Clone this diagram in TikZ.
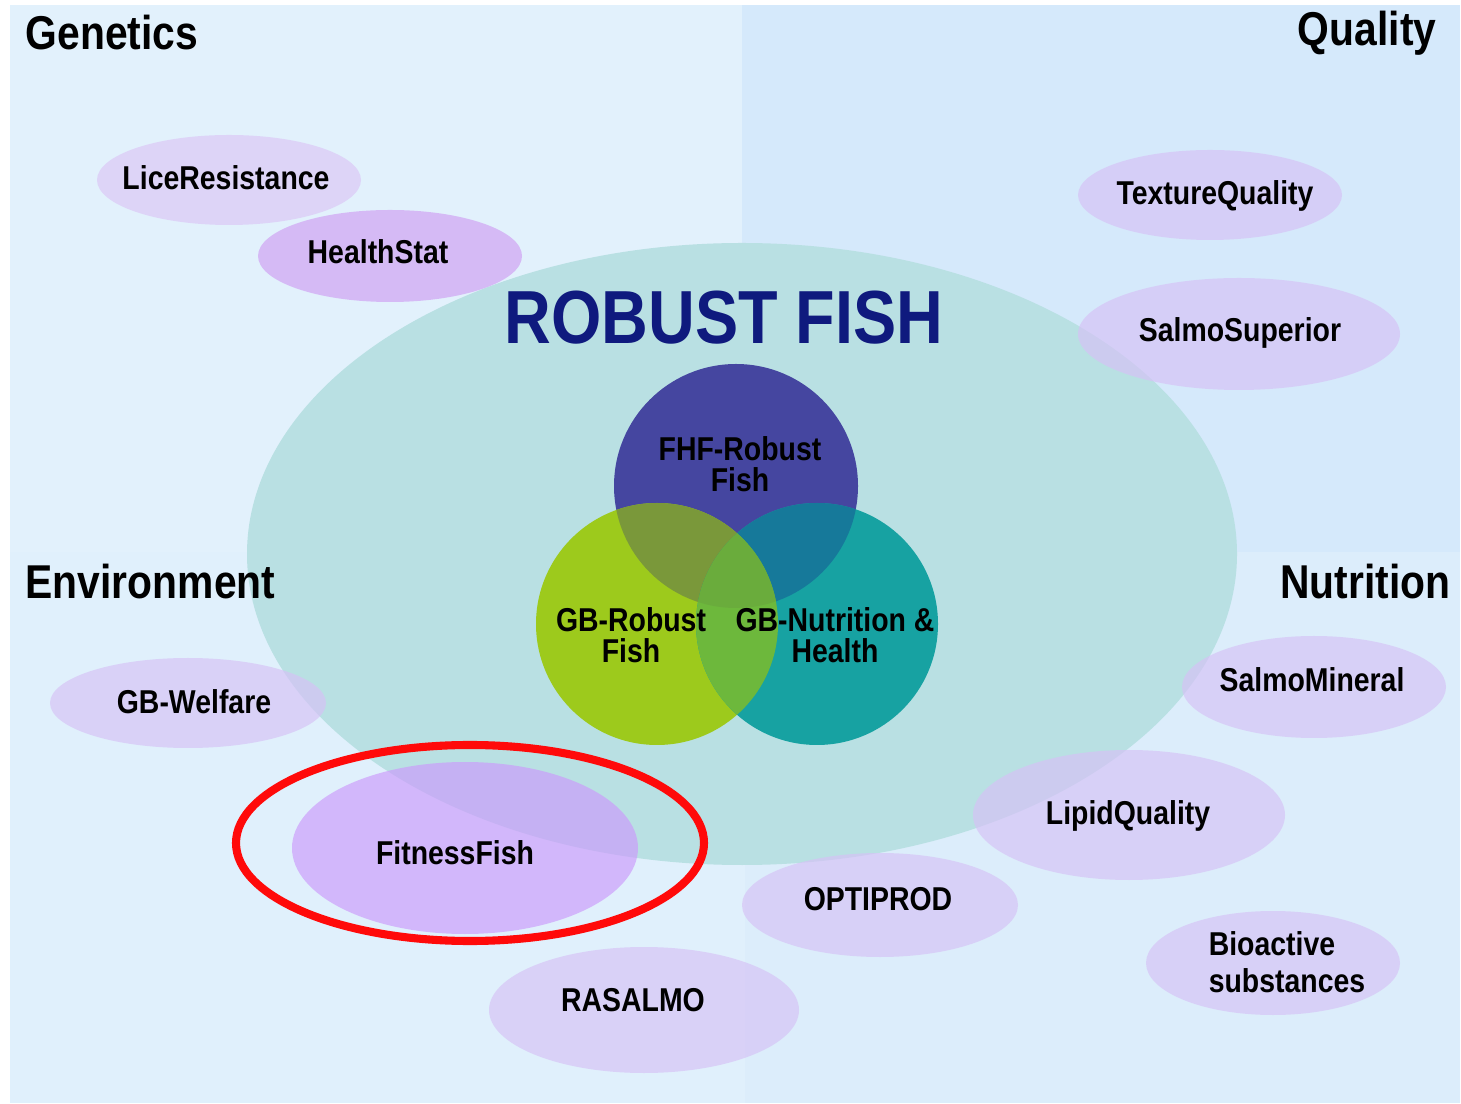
\documentclass[tikz,border=0pt]{standalone}
\usepackage{fontspec}
\usepackage{xcolor}
\usepackage{tikz}
\newfontfamily\labfont[FakeStretch=0.86]{Liberation Sans}
\definecolor{bgTL}{HTML}{E2F1FC}
\definecolor{bgTR}{HTML}{D5E9FB}
\definecolor{bgBL}{HTML}{E0F0FC}
\definecolor{bgBR}{HTML}{DCEDFB}
\definecolor{robust}{HTML}{B9E0E3}
\definecolor{lilac}{HTML}{D6C2F6}
\definecolor{lilacpale}{HTML}{DBC6F6}
\definecolor{lilacdeep}{HTML}{CFA0F3}
\definecolor{lilacfit}{HTML}{CC9BFB}
\definecolor{navy}{HTML}{0F1A7E}
\definecolor{fhfblue}{HTML}{4546A0}
\definecolor{limegreen}{HTML}{9DCA1C}
\definecolor{tealgreen}{HTML}{17A2A2}
\definecolor{olivemix}{HTML}{7A983A}
\definecolor{bluetealmix}{HTML}{16799A}
\definecolor{greenmix}{HTML}{6DB83C}
\definecolor{centremix}{HTML}{6AAC3C}
\definecolor{ringred}{HTML}{FF0A0A}
\tikzset{
  blob/.style={fill=lilac, fill opacity=0.67},
  head/.style={text=black, font=\labfont\bfseries\fontsize{13.5}{15}\selectfont, inner sep=0pt},
  lab/.style={text=black, font=\labfont\bfseries\fontsize{9.4}{8.8}\selectfont, align=center, inner sep=0pt},
  title/.style={text=navy, font=\labfont\bfseries\fontsize{21.4}{24}\selectfont, inner sep=0pt},
  ring/.style={draw=ringred, line width=2.3pt},
}

\begin{document}
\begin{tikzpicture}[x=0.01cm, y=-0.01cm]
  \useasboundingbox (0,0) rectangle (1461,1104);
  \fill[white] (0,0) rectangle (1461,1104);

  % four theme fields
  \fill[bgTL] (10,5) rectangle (742,552);
  \fill[bgTR] (742,5) rectangle (1460,552);
  \fill[bgBL] (10,552) rectangle (745,1103);
  \fill[bgBR] (745,552) rectangle (1460,1103);

  % big programme ellipse
  \fill[robust] (742,554) ellipse [x radius=495, y radius=311];

  % projects
  \fill[blob, fill=lilacpale] (229,180) ellipse [x radius=132, y radius=45];
  \fill[blob, fill=lilacdeep] (390,256) ellipse [x radius=132, y radius=46];
  \fill[blob] (1210,195) ellipse [x radius=132, y radius=45];
  \fill[blob] (1239,334) ellipse [x radius=161, y radius=56];
  \fill[blob] (188,703) ellipse [x radius=138, y radius=45];
  \fill[blob, fill=lilacfit] (465,848) ellipse [x radius=173, y radius=86];
  \fill[blob] (644,1010) ellipse [x radius=155, y radius=63];
  \fill[blob] (880,905) ellipse [x radius=138, y radius=52];
  \fill[blob] (1129,815) ellipse [x radius=156, y radius=65];
  \fill[blob] (1314,687) ellipse [x radius=132, y radius=51];
  \fill[blob] (1273,963) ellipse [x radius=127, y radius=52];

  \node[head, anchor=west] (genetics) at (25,33) {Genetics};
  \node[head, anchor=east] (quality) at (1437,33) {Quality};
  \node[head, anchor=west] (environment) at (25,582) {Environment};
  \node[head, anchor=east] (nutrition) at (1451,582) {Nutrition};

  \node[lab] (lice) at (226,178) {LiceResistance};
  \node[lab] (healthstat) at (378,252) {HealthStat};
  \node[lab] (texture) at (1215,196) {TextureQuality};
  \node[lab] (superior) at (1240,333) {SalmoSuperior};
  \node[lab] (welfare) at (194,702) {GB-Welfare};
  \node[lab] (fitness) at (455,853) {FitnessFish};
  \node[lab] (rasalmo) at (633,1000) {RASALMO};
  \node[lab] (optiprod) at (878,899) {OPTIPROD};
  \node[lab] (lipid) at (1128,816) {LipidQuality};
  \node[lab] (mineral) at (1312,680) {SalmoMineral};
  \node[lab, align=left, font=\labfont\bfseries\fontsize{9.4}{10.5}\selectfont] (bioactive) at (1287,962) {Bioactive\\substances};

  \node[title] (robustfish) at (724,318) {ROBUST FISH};

  % venn of the three core projects
  \coordinate (F) at (736,486);
  \coordinate (R) at (657,624);
  \coordinate (N) at (817,624);
  \fill[fhfblue] (F) circle [radius=122];
  \fill[limegreen] (R) circle [radius=121];
  \fill[tealgreen] (N) circle [radius=121];
  \begin{scope}
    \clip (F) circle [radius=122];
    \fill[olivemix] (R) circle [radius=121];
    \fill[bluetealmix] (N) circle [radius=121];
  \end{scope}
  \begin{scope}
    \clip (R) circle [radius=121];
    \fill[greenmix] (N) circle [radius=121];
    \clip (N) circle [radius=121];
    \fill[centremix] (F) circle [radius=122];
  \end{scope}

  \node[lab] (fhf) at (740,464) {FHF-Robust\\Fish};
  \node[lab] (gbrobust) at (631,635) {GB-Robust\\Fish};
  \node[lab] (gbnutrition) at (835,635) {GB-Nutrition \&\\Health};

  % highlight
  \draw[ring] (470,843) ellipse [x radius=234, y radius=98];
\end{tikzpicture}
\end{document}
